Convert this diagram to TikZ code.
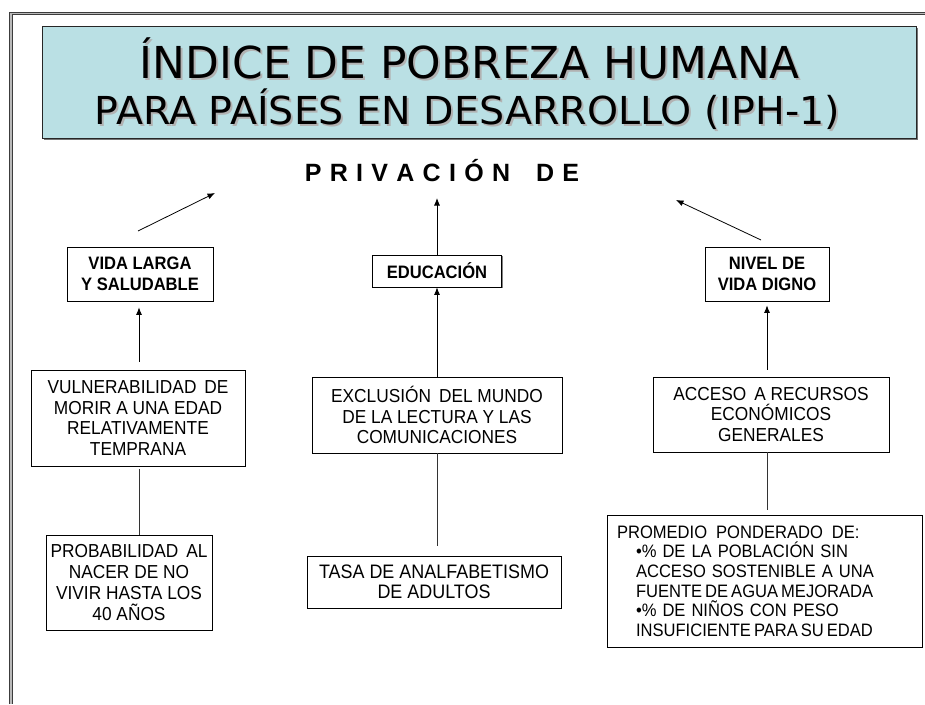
\documentclass[tikz,border=0pt]{standalone}
\usepackage{fontspec}
\usepackage{graphicx}
\setmainfont{Liberation Sans}[FakeStretch=0.92]
\newfontfamily\privfont{Liberation Sans}
\newfontfamily\titlefont{DejaVu Sans}
\usetikzlibrary{arrows.meta,shadows}
\definecolor{titlefill}{RGB}{186,224,228}
\definecolor{framedark}{RGB}{60,60,60}
\definecolor{framelight}{RGB}{185,185,185}
\tikzset{
  box/.style={draw=black, line width=0.8pt, fill=white, align=center, inner sep=1pt,
    font=\fontsize{18.8}{20.7}\selectfont,
    drop shadow={shadow xshift=1.3pt, shadow yshift=-1.3pt, fill=black!50, opacity=1}},
  boldbox/.style={box, font=\fontsize{18}{21.5}\selectfont\bfseries},
  arr/.style={-{Latex[length=7.5pt,width=6pt]}, line width=0.8pt, draw=black},
  conn/.style={line width=0.8pt, draw=black!80},
  titlebox/.style={draw=black!85, line width=0.9pt, fill=titlefill,
    drop shadow={shadow xshift=1.8pt, shadow yshift=-1.8pt, fill=black!55, opacity=1}},
  titletext/.style={inner sep=0pt, anchor=base, text=black}
}
\newcommand{\shadowed}[1]{\makebox[0pt][l]{\hspace{2pt}\raisebox{-2pt}{\textcolor{black!30}{#1}}}#1}
\newcommand{\lineone}{\resizebox{660pt}{\height}{\titlefont\fontsize{44}{44}\selectfont ÍNDICE DE POBREZA HUMANA}}
\newcommand{\linetwo}{\resizebox{745pt}{\height}{\titlefont\fontsize{38.5}{38.5}\selectfont PARA PAÍSES EN DESARROLLO (IPH-1)}}
\newcommand{\ls}{\hspace{8.3pt}}
\newcommand{\privtext}{\privfont\fontsize{25}{25}\selectfont\bfseries P\ls R\ls I\ls V\ls A\ls C\ls I\ls Ó\ls N\hspace{26pt}D\ls E}
\newcommand{\tight}{\hspace{3pt}}
\begin{document}
\begin{tikzpicture}[x=1pt,y=-1pt]
\useasboundingbox (0,0) rectangle (925,704);
% outer frame
\draw[line width=1.1pt, draw=framedark, double=framelight, double distance=1.6pt, line cap=butt]
  (11,704) -- (11,13.5) -- (925,13.5);
% title
\node[titlebox, minimum width=874pt, minimum height=112pt, inner sep=0pt] (title) at (479,82) {};
\node[titletext] (t1) at (470,78) {\shadowed{\lineone}};
\node[titletext] (t2) at (467.5,124) {\shadowed{\linetwo}};
% heading
\node[inner sep=0pt, anchor=base] (priv) at (442,181) {\privtext};
% second row
\node[boldbox, minimum width=146pt, minimum height=54pt] (vida) at (140,274) {VIDA LARGA\\Y SALUDABLE};
\node[boldbox, minimum width=129pt, minimum height=32pt] (edu) at (437,271) {EDUCACIÓN};
\node[boldbox, minimum width=124pt, minimum height=54pt] (nivel) at (767,274) {NIVEL DE\\VIDA DIGNO};
% third row
\node[box, minimum width=214pt, minimum height=96pt] (vuln) at (138,418) {VULNERABILIDAD\, DE\\MORIR A UNA EDAD\\RELATIVAMENTE\\TEMPRANA};
\node[box, minimum width=250pt, minimum height=76pt] (excl) at (437,415) {EXCLUSIÓN\, DEL MUNDO\\DE LA LECTURA Y LAS\\COMUNICACIONES};
\node[box, minimum width=236pt, minimum height=75pt] (acceso) at (771,414.5) {ACCESO\, A RECURSOS\\ECONÓMICOS\\GENERALES};
% fourth row
\node[box, minimum width=166pt, minimum height=95pt] (prob) at (129,582.5) {PROBABILIDAD\, AL\\NACER DE NO\\VIVIR HASTA LOS\\40 AÑOS};
\node[box, minimum width=254pt, minimum height=52pt, font=\fontsize{19.5}{19.5}\selectfont] (tasa) at (434,582) {TASA DE ANALFABETISMO\\DE ADULTOS};
\node[box, minimum width=315pt, minimum height=132pt, align=left, text width=295pt, inner xsep=10pt,
  font=\fontsize{18}{19.6}\selectfont] (prom) at (764.5,581)
  {PROMEDIO\, PONDERADO\, DE:\\
   \hspace*{19pt}\makebox[276pt][s]{•\% DE LA POBLACIÓN SIN}\\
   \hspace*{19pt}\makebox[276pt][s]{ACCESO SOSTENIBLE A UNA}\\
   \hspace*{19pt}FUENTE\tight DE\tight AGUA\tight MEJORADA\\
   \hspace*{19pt}\makebox[276pt][s]{•\% DE NIÑOS CON PESO}\\
   \hspace*{19pt}INSUFICIENTE\tight PARA\tight SU\tight EDAD};
% top arrows
\coordinate (la) at (138,231);
\coordinate (lb) at (215,193);
\coordinate (mb) at (437,198);
\coordinate (ra) at (761,240);
\coordinate (rb) at (676,200);
\draw[arr] (la) -- (lb);
\draw[arr] (edu.north) -- (mb);
\draw[arr] (ra) -- (rb);
% column connectors
\draw[arr, shorten <=8pt, shorten >=6pt] (vuln.north -| 139,0) -- (vida.south -| 139,0);
\draw[conn, shorten <=3pt] (vuln.south -| 139,0) -- (prob.north -| 139,0);
\draw[arr] (excl.north) -- (excl.north |- edu.south);
\draw[conn, shorten >=10pt] (excl.south) -- (excl.south |- tasa.north);
\draw[arr, shorten <=7pt, shorten >=4pt] (nivel.south |- acceso.north) -- (nivel.south);
\draw[conn, shorten >=5pt] (nivel.south |- acceso.south) -- (nivel.south |- prom.north);
\end{tikzpicture}
\end{document}
